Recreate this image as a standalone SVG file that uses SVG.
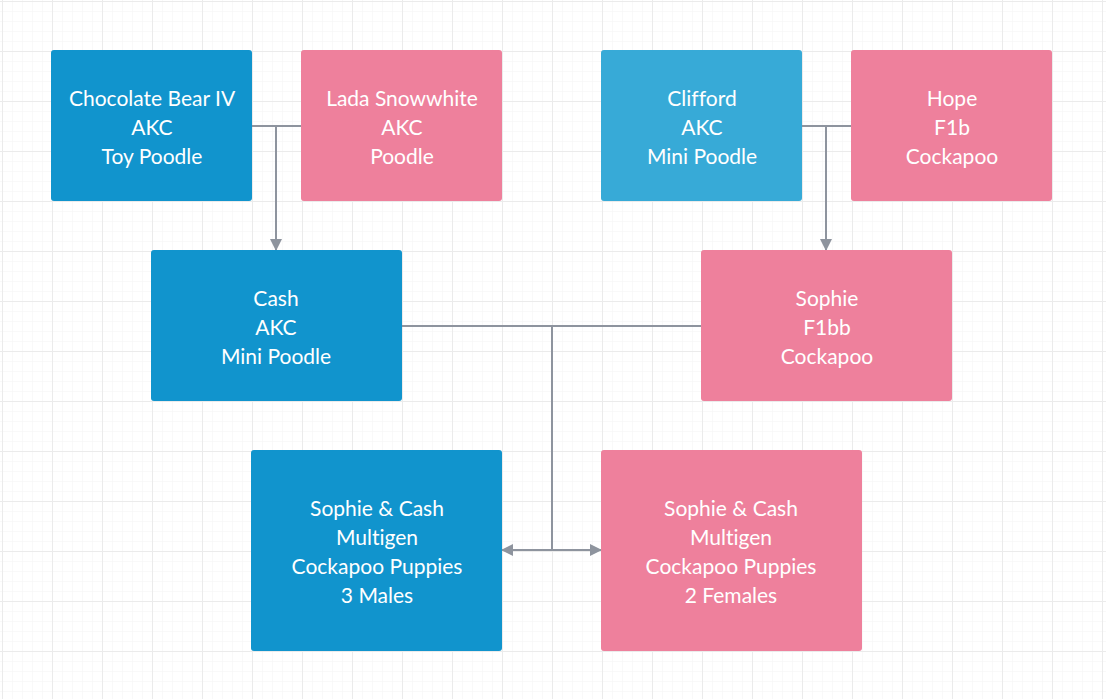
<svg xmlns="http://www.w3.org/2000/svg" width="1106" height="699" viewBox="0 0 1106 699">
<style>
.box{stroke:none}
.blue{fill:#1194cd}
.lblue{fill:#37aad7}
.pink{fill:#ee809c}
.t{font-family:Lato,"Liberation Sans",sans-serif;font-size:21px;fill:#ffffff;text-anchor:middle;font-variant-ligatures:none;font-feature-settings:"liga" 0}
.c{fill:none;stroke:#8e949e;stroke-width:2}
</style>
<defs>
<pattern id="minor" width="10" height="10" patternUnits="userSpaceOnUse" x="2" y="1">
<path d="M0 0H10M0 0V10" fill="none" stroke="#f4f4f4" stroke-width="1"/>
</pattern>
<pattern id="major" width="50" height="50" patternUnits="userSpaceOnUse" x="2" y="1">
<path d="M0 0H50M0 0V50" fill="none" stroke="#ebebeb" stroke-width="2"/>
</pattern>
<marker id="arr" viewBox="0 0 12 12" refX="11" refY="6" markerWidth="12" markerHeight="12" markerUnits="userSpaceOnUse" orient="auto-start-reverse">
<path d="M0 0L12 6L0 12Z" fill="#8e949e"/>
</marker>
</defs>
<rect width="1106" height="699" fill="#ffffff"/>
<rect width="1106" height="699" fill="url(#minor)"/>
<rect width="1106" height="699" fill="url(#major)"/>
<g id="connectors">
<path class="c" d="M252 126H301"/>
<path class="c" d="M276 126V250" marker-end="url(#arr)"/>
<path class="c" d="M802 126H851"/>
<path class="c" d="M826 126V250" marker-end="url(#arr)"/>
<path class="c" d="M402 326H701"/>
<path class="c" d="M552 326V550"/>
<path class="c" d="M502 550H601" marker-start="url(#arr)" marker-end="url(#arr)"/>
</g>
<g id="chocolate">
<rect class="box blue" x="51" y="50" width="201" height="151" rx="3"/>
<text class="t" x="152" y="106">Chocolate Bear IV</text>
<text class="t" x="152" y="135">AKC</text>
<text class="t" x="152" y="164">Toy Poodle</text>
</g>
<g id="lada">
<rect class="box pink" x="301" y="50" width="201" height="151" rx="3"/>
<text class="t" x="402" y="106">Lada Snowwhite</text>
<text class="t" x="402" y="135">AKC</text>
<text class="t" x="402" y="164">Poodle</text>
</g>
<g id="clifford">
<rect class="box lblue" x="601" y="50" width="201" height="151" rx="3"/>
<text class="t" x="702" y="106">Clifford</text>
<text class="t" x="702" y="135">AKC</text>
<text class="t" x="702" y="164">Mini Poodle</text>
</g>
<g id="hope">
<rect class="box pink" x="851" y="50" width="201" height="151" rx="3"/>
<text class="t" x="952" y="106">Hope</text>
<text class="t" x="952" y="135">F1b</text>
<text class="t" x="952" y="164">Cockapoo</text>
</g>
<g id="cash">
<rect class="box blue" x="151" y="250" width="251" height="151" rx="3"/>
<text class="t" x="276" y="306">Cash</text>
<text class="t" x="276" y="335">AKC</text>
<text class="t" x="276" y="364">Mini Poodle</text>
</g>
<g id="sophie">
<rect class="box pink" x="701" y="250" width="251" height="151" rx="3"/>
<text class="t" x="827" y="306">Sophie</text>
<text class="t" x="827" y="335">F1bb</text>
<text class="t" x="827" y="364">Cockapoo</text>
</g>
<g id="males">
<rect class="box blue" x="251" y="450" width="251" height="201" rx="3"/>
<text class="t" x="377" y="516">Sophie &amp; Cash</text>
<text class="t" x="377" y="545">Multigen</text>
<text class="t" x="377" y="574">Cockapoo Puppies</text>
<text class="t" x="377" y="603">3 Males</text>
</g>
<g id="females">
<rect class="box pink" x="601" y="450" width="261" height="201" rx="3"/>
<text class="t" x="731" y="516">Sophie &amp; Cash</text>
<text class="t" x="731" y="545">Multigen</text>
<text class="t" x="731" y="574">Cockapoo Puppies</text>
<text class="t" x="731" y="603">2 Females</text>
</g>
</svg>
